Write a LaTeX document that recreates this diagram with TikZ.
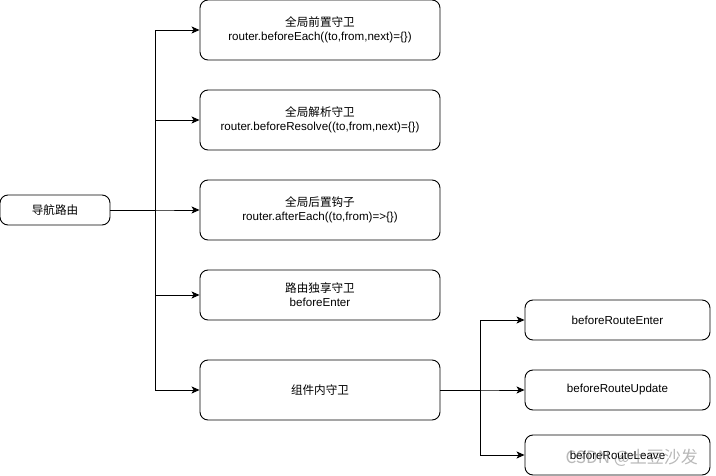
\documentclass[tikz,border=0pt]{standalone}
\usepackage{fontspec}
\setmainfont{Liberation Sans}
\newfontfamily\cjk{Noto Sans CJK SC}
\usetikzlibrary{arrows.meta}
\begin{document}
\begin{tikzpicture}[x=1pt,y=-1pt,
  box/.style={draw,line width=0.9pt,rounded corners=8pt,align=center,inner sep=0pt,
    font=\fontsize{11.6}{14}\selectfont},
  arr/.style={line width=0.9pt,-{Stealth[length=8pt,width=7pt,inset=2pt]}}]
\useasboundingbox (0,0) rectangle (716,476);
\fill[white] (0,0) rectangle (716,476);
\node[box,minimum width=110pt,minimum height=30pt] (nav) at (55,210) {\cjk 导航路由};
\node[box,minimum width=240pt,minimum height=60pt] (b1) at (320,30) {{\cjk 全局前置守卫}\\router.beforeEach((to,from,next)=\{\})};
\node[box,minimum width=240pt,minimum height=60pt] (b2) at (320,120) {{\cjk 全局解析守卫}\\router.beforeResolve((to,from,next)=\{\})};
\node[box,minimum width=240pt,minimum height=60pt] (b3) at (320,210) {{\cjk 全局后置钩子}\\router.afterEach((to,from)=>\{\})};
\node[box,minimum width=240pt,minimum height=50pt] (b4) at (320,295) {{\cjk 路由独享守卫}\\beforeEnter};
\node[box,minimum width=240pt,minimum height=60pt] (b5) at (320,390) {\cjk 组件内守卫};
\node[box,minimum width=185pt,minimum height=40pt] (r1) at (617.5,320) {beforeRouteEnter};
\node[box,minimum width=185pt,minimum height=40pt] (r2) at (617.5,390) {beforeRouteUpdate};
\node[box,minimum width=185pt,minimum height=40pt] (r3) at (617.5,455) {beforeRouteLeave};
\coordinate (j1) at (155,210);
\coordinate (j2) at (480,390);
\draw[arr] (nav.east) -- (j1) |- (b1.west);
\draw[arr] (nav.east) -- (j1) |- (b2.west);
\draw[arr] (nav.east) -- (j1) |- (b3.west);
\draw[arr] (nav.east) -- (j1) |- (b4.west);
\draw[arr] (nav.east) -- (j1) |- (b5.west);
\draw[arr] (b5.east) -- (j2) |- (r1.west);
\draw[arr] (b5.east) -- (j2) |- (r2.west);
\draw[arr] (b5.east) -- (j2) |- (r3.west);
\node[text=gray,opacity=0.55,font=\cjk\fontsize{17}{20}\selectfont,anchor=west] (wm) at (562,458) {CSDN @土豆沙发};
\end{tikzpicture}
\end{document}
